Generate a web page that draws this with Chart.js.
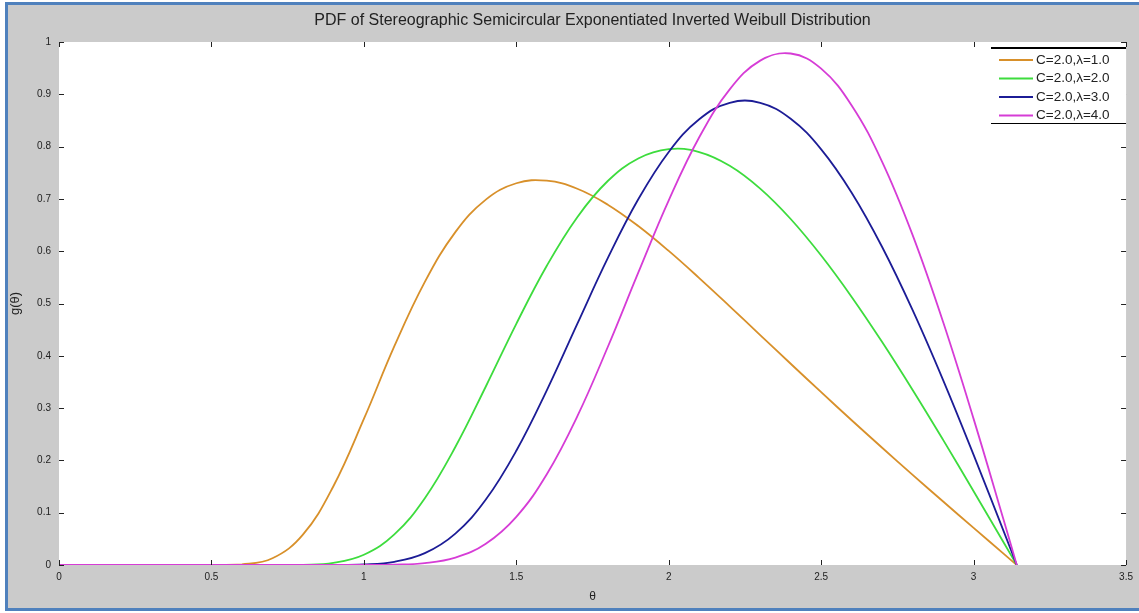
<!DOCTYPE html>
<html><head><meta charset="utf-8">
<script src="https://cdn.jsdelivr.net/npm/chart.js@4.4.0/dist/chart.umd.min.js"></script>
<style>
html,body{margin:0;padding:0;background:#fff;width:1139px;height:613px;overflow:hidden;}
#frame{position:absolute;left:5px;top:2px;width:1140px;height:603px;border:3px solid #4f81bd;background:#cbcbcb;}
#c{position:absolute;left:0;top:0;}
</style></head><body>
<div id="frame"></div>
<canvas id="c" width="1139" height="613"></canvas>
<script>
const chartTitle = 'PDF of Stereographic Semicircular Exponentiated Inverted Weibull Distribution';
const xAxisTitle = 'θ';
const yAxisTitle = 'g(θ)';
const thetaValues = [0,0.1,0.2,0.3,0.4,0.5,0.6,0.7,0.8,0.9,1.0,1.1,1.2,1.3,1.4,1.5,1.6,1.7,1.8,1.9,2.0,2.1,2.2,2.3,2.4,2.5,2.6,2.7,2.8,2.9,3.0,3.1,3.1416];
const lambda1 = [0,0,0,0,0,0,0.0011,0.0128,0.0580,0.1506,0.2792,0.4183,0.5413,0.6365,0.6987,0.7299,0.7348,0.7194,0.6890,0.6481,0.6005,0.5486,0.4946,0.4397,0.3848,0.3304,0.2768,0.2242,0.1724,0.1214,0.0709,0.0208,0];
const lambda2 = [0,0,0,0,0,0,0,0,0.0004,0.0041,0.0196,0.0585,0.1278,0.2256,0.3413,0.4612,0.5722,0.6651,0.7342,0.7773,0.7952,0.7896,0.7634,0.7197,0.6616,0.5917,0.5126,0.4263,0.3347,0.2392,0.1411,0.0416,0];
const lambda3 = [0,0,0,0,0,0,0,0,0,0.0001,0.0010,0.0061,0.0226,0.0600,0.1251,0.2185,0.3341,0.4611,0.5867,0.6992,0.7898,0.8523,0.8838,0.8837,0.8532,0.7948,0.7119,0.6081,0.4873,0.3536,0.2106,0.0623,0];
const lambda4 = [0,0,0,0,0,0,0,0,0,0,0,0.0006,0.0036,0.0142,0.0407,0.0921,0.1735,0.2842,0.4168,0.5590,0.6973,0.8178,0.9094,0.9644,0.9780,0.9490,0.8787,0.7709,0.6307,0.4645,0.2794,0.0831,0];
const seriesLabels = ['C=2.0,λ=1.0','C=2.0,λ=2.0','C=2.0,λ=3.0','C=2.0,λ=4.0'];
const seriesColors = ['#d8902a','#3ddc3d','#1c1c96','#d63cd6'];
const xTickLabels = ['0','0.5','1','1.5','2','2.5','3','3.5'];
const yTickLabels = ['0','0.1','0.2','0.3','0.4','0.5','0.6','0.7','0.8','0.9','1'];

const seriesValues = [lambda1, lambda2, lambda3, lambda4];
const datasets = [3,2,1,0].map(i => ({
  label: seriesLabels[i],
  data: thetaValues.map((x, j) => ({x: x, y: seriesValues[i][j]})),
  borderColor: seriesColors[i],
  backgroundColor: seriesColors[i],
  borderWidth: 1.8,
  pointRadius: 0,
  fill: false,
  tension: 0.4
}));

const FONT = '"Liberation Sans", Arial, sans-serif';
const decor = {
  id: 'decor',
  beforeDraw(chart) {
    const {ctx, chartArea: a} = chart;
    ctx.save();
    ctx.fillStyle = '#ffffff';
    ctx.fillRect(a.left, a.top, a.right - a.left, a.bottom - a.top);
    ctx.restore();
  },
  afterDatasetsDraw(chart) {
    const {ctx, chartArea: a, scales} = chart;
    ctx.save();
    ctx.strokeStyle = '#222';
    ctx.lineWidth = 1;
    const L = 5;
    scales.x.ticks.forEach(t => {
      const px = Math.round(scales.x.getPixelForValue(t.value)) + 0.5;
      ctx.beginPath();
      ctx.moveTo(px, a.bottom); ctx.lineTo(px, a.bottom - L);
      ctx.moveTo(px, a.top); ctx.lineTo(px, a.top + L);
      ctx.stroke();
    });
    scales.y.ticks.forEach(t => {
      const py = Math.round(scales.y.getPixelForValue(t.value)) + 0.5;
      ctx.beginPath();
      ctx.moveTo(a.left, py); ctx.lineTo(a.left + L, py);
      ctx.moveTo(a.right, py); ctx.lineTo(a.right - L, py);
      ctx.stroke();
    });
    ctx.restore();
  },
  afterDraw(chart) {
    const {ctx, chartArea: a} = chart;
    const bx = 991, by = 47, bw = a.right - 991, bh = 76;
    ctx.save();
    ctx.fillStyle = '#fff';
    ctx.fillRect(bx, by, bw, bh);
    ctx.strokeStyle = '#000';
    ctx.lineWidth = 2;
    ctx.beginPath(); ctx.moveTo(bx, by + 1); ctx.lineTo(bx + bw, by + 1); ctx.stroke();
    ctx.lineWidth = 1;
    ctx.beginPath(); ctx.moveTo(bx, by + bh + 0.5); ctx.lineTo(bx + bw, by + bh + 0.5); ctx.stroke();
    ctx.font = '13.5px ' + FONT;
    ctx.textBaseline = 'middle';
    seriesLabels.forEach((lab, i) => {
      const y = by + 13 + i * 18.5;
      ctx.strokeStyle = seriesColors[i];
      ctx.lineWidth = 1.8;
      ctx.beginPath(); ctx.moveTo(999, y); ctx.lineTo(1033, y); ctx.stroke();
      ctx.fillStyle = '#222';
      ctx.fillText(lab, 1036, y);
    });
    ctx.restore();
  }
};

new Chart(document.getElementById('c'), {
  type: 'line',
  data: { datasets: datasets },
  plugins: [decor],
  options: {
    responsive: false,
    animation: false,
    layout: { padding: { left: 0, right: 7, top: 0, bottom: 0 } },
    plugins: {
      legend: { display: false },
      tooltip: { enabled: false },
      title: {
        display: true,
        fullSize: false,
        text: chartTitle,
        color: '#222',
        font: { family: FONT, size: 16, weight: 'normal', lineHeight: 1.1 },
        padding: { top: 12, bottom: 12.4 }
      }
    },
    scales: {
      x: {
        type: 'linear', min: 0, max: 3.5,
        grid: { display: false, drawTicks: false },
        border: { display: false },
        ticks: {
          stepSize: 0.5, padding: 6, color: '#222', maxRotation: 0,
          font: { family: FONT, size: 10 },
          callback: (v, i) => xTickLabels[i]
        },
        title: { display: true, text: xAxisTitle, color: '#222',
          font: { family: FONT, size: 12 },
          padding: { top: 0, bottom: 9 } },
        afterFit: s => { s.height = 48; }
      },
      y: {
        type: 'linear', min: 0, max: 1,
        grid: { display: false, drawTicks: false },
        border: { display: false },
        ticks: {
          stepSize: 0.1, padding: 8, color: '#222',
          font: { family: FONT, size: 10 },
          callback: (v, i) => yTickLabels[i]
        },
        title: { display: true, text: yAxisTitle, color: '#222',
          font: { family: FONT, size: 13 },
          padding: { top: 8, bottom: 0 } },
        afterFit: s => { s.width = 59; }
      }
    }
  }
});
</script>
</body></html>
